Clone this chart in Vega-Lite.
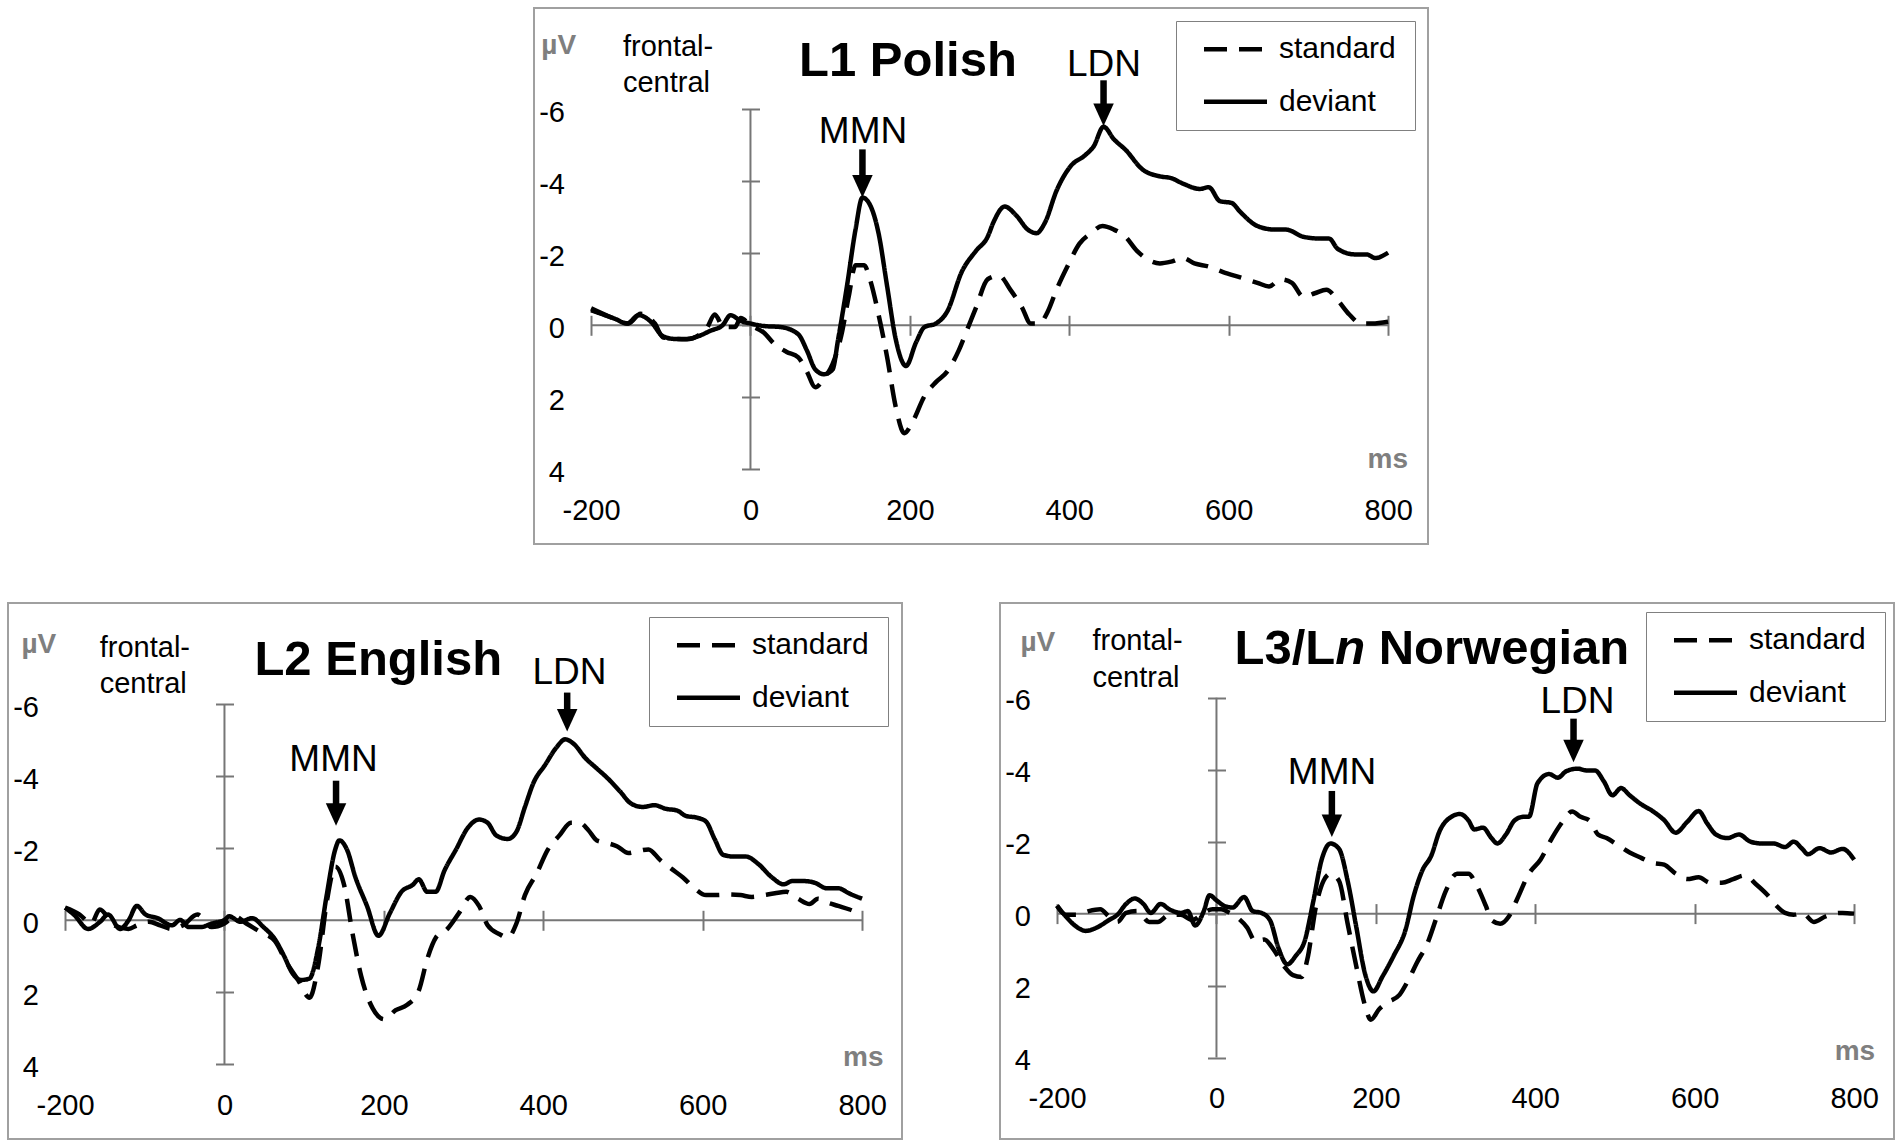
{
"$schema": "https://vega.github.io/schema/vega-lite/v6.json",
"background": "white",
"padding": {"left": 7, "top": 7, "right": 5, "bottom": 5},
"config": {"font": "Liberation Sans", "view": {"stroke": null}},
"datasets": {
"frame": [
{"p":"A","t1":-200,"t2":800,"v1":0,"v2":0},{"p":"A","t1":0,"t2":0,"v1":-6,"v2":4},
{"p":"B","t1":-200,"t2":800,"v1":0,"v2":0},{"p":"B","t1":0,"t2":0,"v1":-6,"v2":4},
{"p":"C","t1":-200,"t2":800,"v1":0,"v2":0},{"p":"C","t1":0,"t2":0,"v1":-6,"v2":4}
],
"curves": [
{"p":"A","c":"deviant","t":-200,"v":-0.42},{"p":"A","c":"deviant","t":-185,"v":-0.3},{"p":"A","c":"deviant","t":-170,"v":-0.18},{"p":"A","c":"deviant","t":-155,"v":-0.05},{"p":"A","c":"deviant","t":-140,"v":-0.28},{"p":"A","c":"deviant","t":-125,"v":-0.1},{"p":"A","c":"deviant","t":-110,"v":0.3},{"p":"A","c":"deviant","t":-95,"v":0.38},{"p":"A","c":"deviant","t":-80,"v":0.38},{"p":"A","c":"deviant","t":-65,"v":0.3},{"p":"A","c":"deviant","t":-50,"v":0.15},{"p":"A","c":"deviant","t":-35,"v":0},{"p":"A","c":"deviant","t":-25,"v":-0.28},{"p":"A","c":"deviant","t":-12,"v":-0.12},{"p":"A","c":"deviant","t":0,"v":-0.05},{"p":"A","c":"deviant","t":16.6,"v":0.02},{"p":"A","c":"deviant","t":38,"v":0.05},{"p":"A","c":"deviant","t":60,"v":0.25},{"p":"A","c":"deviant","t":70.6,"v":0.69},{"p":"A","c":"deviant","t":81.4,"v":1.23},{"p":"A","c":"deviant","t":92.2,"v":1.36},{"p":"A","c":"deviant","t":103,"v":1.23},{"p":"A","c":"deviant","t":110,"v":0.39},{"p":"A","c":"deviant","t":121,"v":-1.08},{"p":"A","c":"deviant","t":131.8,"v":-2.66},{"p":"A","c":"deviant","t":140.5,"v":-3.55},{"p":"A","c":"deviant","t":149.9,"v":-3.35},{"p":"A","c":"deviant","t":160.7,"v":-2.56},{"p":"A","c":"deviant","t":171.5,"v":-1.08},{"p":"A","c":"deviant","t":182.3,"v":0.39},{"p":"A","c":"deviant","t":195.2,"v":1.13},{"p":"A","c":"deviant","t":207.5,"v":0.49},{"p":"A","c":"deviant","t":218.3,"v":0.05},{"p":"A","c":"deviant","t":232.7,"v":-0.05},{"p":"A","c":"deviant","t":247,"v":-0.39},{"p":"A","c":"deviant","t":265,"v":-1.48},{"p":"A","c":"deviant","t":283,"v":-2.07},{"p":"A","c":"deviant","t":297.6,"v":-2.46},{"p":"A","c":"deviant","t":304.8,"v":-2.86},{"p":"A","c":"deviant","t":319,"v":-3.3},{"p":"A","c":"deviant","t":333.6,"v":-3.05},{"p":"A","c":"deviant","t":348,"v":-2.66},{"p":"A","c":"deviant","t":358.8,"v":-2.56},{"p":"A","c":"deviant","t":369.6,"v":-2.86},{"p":"A","c":"deviant","t":384,"v":-3.74},{"p":"A","c":"deviant","t":402,"v":-4.43},{"p":"A","c":"deviant","t":420,"v":-4.73},{"p":"A","c":"deviant","t":430.8,"v":-4.98},{"p":"A","c":"deviant","t":443,"v":-5.52},{"p":"A","c":"deviant","t":456,"v":-5.17},{"p":"A","c":"deviant","t":470.5,"v":-4.88},{"p":"A","c":"deviant","t":492,"v":-4.33},{"p":"A","c":"deviant","t":513.7,"v":-4.14},{"p":"A","c":"deviant","t":528,"v":-4.09},{"p":"A","c":"deviant","t":542.5,"v":-3.94},{"p":"A","c":"deviant","t":564,"v":-3.79},{"p":"A","c":"deviant","t":575,"v":-3.84},{"p":"A","c":"deviant","t":589,"v":-3.45},{"p":"A","c":"deviant","t":603.7,"v":-3.4},{"p":"A","c":"deviant","t":614.6,"v":-3.15},{"p":"A","c":"deviant","t":636,"v":-2.76},{"p":"A","c":"deviant","t":657.8,"v":-2.66},{"p":"A","c":"deviant","t":672,"v":-2.66},{"p":"A","c":"deviant","t":693.8,"v":-2.46},{"p":"A","c":"deviant","t":715.4,"v":-2.41},{"p":"A","c":"deviant","t":726,"v":-2.41},{"p":"A","c":"deviant","t":737,"v":-2.12},{"p":"A","c":"deviant","t":758.6,"v":-1.97},{"p":"A","c":"deviant","t":773,"v":-1.97},{"p":"A","c":"deviant","t":783.9,"v":-1.87},{"p":"A","c":"deviant","t":800,"v":-2.02},
{"p":"A","c":"standard","t":-200,"v":-0.47},{"p":"A","c":"standard","t":-178,"v":-0.25},{"p":"A","c":"standard","t":-153,"v":-0.05},{"p":"A","c":"standard","t":-138,"v":-0.32},{"p":"A","c":"standard","t":-120,"v":-0.05},{"p":"A","c":"standard","t":-109.5,"v":0.34},{"p":"A","c":"standard","t":-80.7,"v":0.39},{"p":"A","c":"standard","t":-55.5,"v":0.1},{"p":"A","c":"standard","t":-44.7,"v":-0.3},{"p":"A","c":"standard","t":-33.9,"v":0.05},{"p":"A","c":"standard","t":-19.5,"v":0.05},{"p":"A","c":"standard","t":-12.2,"v":-0.2},{"p":"A","c":"standard","t":0,"v":0},{"p":"A","c":"standard","t":16.6,"v":0.2},{"p":"A","c":"standard","t":31,"v":0.54},{"p":"A","c":"standard","t":45.4,"v":0.74},{"p":"A","c":"standard","t":60,"v":0.89},{"p":"A","c":"standard","t":70.6,"v":1.28},{"p":"A","c":"standard","t":81.4,"v":1.72},{"p":"A","c":"standard","t":92.2,"v":1.48},{"p":"A","c":"standard","t":103,"v":1.08},{"p":"A","c":"standard","t":113.8,"v":0.3},{"p":"A","c":"standard","t":123.2,"v":-0.79},{"p":"A","c":"standard","t":131.8,"v":-1.67},{"p":"A","c":"standard","t":142.7,"v":-1.67},{"p":"A","c":"standard","t":149.9,"v":-1.28},{"p":"A","c":"standard","t":160.7,"v":-0.3},{"p":"A","c":"standard","t":171.5,"v":0.89},{"p":"A","c":"standard","t":182.3,"v":2.27},{"p":"A","c":"standard","t":193,"v":3.0},{"p":"A","c":"standard","t":204,"v":2.66},{"p":"A","c":"standard","t":218.3,"v":1.97},{"p":"A","c":"standard","t":232.7,"v":1.58},{"p":"A","c":"standard","t":247,"v":1.28},{"p":"A","c":"standard","t":261.5,"v":0.69},{"p":"A","c":"standard","t":272.3,"v":0.1},{"p":"A","c":"standard","t":283,"v":-0.49},{"p":"A","c":"standard","t":297.6,"v":-1.28},{"p":"A","c":"standard","t":312,"v":-1.38},{"p":"A","c":"standard","t":326,"v":-0.99},{"p":"A","c":"standard","t":340.8,"v":-0.49},{"p":"A","c":"standard","t":351.6,"v":-0.05},{"p":"A","c":"standard","t":362.4,"v":-0.05},{"p":"A","c":"standard","t":373.2,"v":-0.39},{"p":"A","c":"standard","t":384,"v":-0.99},{"p":"A","c":"standard","t":398.4,"v":-1.67},{"p":"A","c":"standard","t":412.8,"v":-2.27},{"p":"A","c":"standard","t":427.2,"v":-2.56},{"p":"A","c":"standard","t":441.6,"v":-2.76},{"p":"A","c":"standard","t":456,"v":-2.66},{"p":"A","c":"standard","t":470.5,"v":-2.46},{"p":"A","c":"standard","t":484.9,"v":-2.07},{"p":"A","c":"standard","t":499.3,"v":-1.82},{"p":"A","c":"standard","t":513.7,"v":-1.72},{"p":"A","c":"standard","t":528,"v":-1.77},{"p":"A","c":"standard","t":542.5,"v":-1.87},{"p":"A","c":"standard","t":557,"v":-1.72},{"p":"A","c":"standard","t":575,"v":-1.63},{"p":"A","c":"standard","t":593,"v":-1.48},{"p":"A","c":"standard","t":614.6,"v":-1.33},{"p":"A","c":"standard","t":636,"v":-1.18},{"p":"A","c":"standard","t":650.6,"v":-1.08},{"p":"A","c":"standard","t":665,"v":-1.28},{"p":"A","c":"standard","t":679.4,"v":-1.18},{"p":"A","c":"standard","t":693.8,"v":-0.79},{"p":"A","c":"standard","t":708,"v":-0.89},{"p":"A","c":"standard","t":722.6,"v":-0.99},{"p":"A","c":"standard","t":737,"v":-0.69},{"p":"A","c":"standard","t":751.4,"v":-0.3},{"p":"A","c":"standard","t":765.7,"v":-0.05},{"p":"A","c":"standard","t":780,"v":-0.05},{"p":"A","c":"standard","t":800,"v":-0.1},
{"p":"B","c":"deviant","t":-200,"v":-0.35},{"p":"B","c":"deviant","t":-189,"v":-0.16},{"p":"B","c":"deviant","t":-171,"v":0.24},{"p":"B","c":"deviant","t":-156,"v":0.04},{"p":"B","c":"deviant","t":-146,"v":-0.16},{"p":"B","c":"deviant","t":-131,"v":0.24},{"p":"B","c":"deviant","t":-120,"v":-0.01},{"p":"B","c":"deviant","t":-110,"v":-0.4},{"p":"B","c":"deviant","t":-99,"v":-0.16},{"p":"B","c":"deviant","t":-84,"v":-0.06},{"p":"B","c":"deviant","t":-66,"v":0.14},{"p":"B","c":"deviant","t":-55.5,"v":-0.01},{"p":"B","c":"deviant","t":-44.7,"v":0.19},{"p":"B","c":"deviant","t":-30,"v":0.19},{"p":"B","c":"deviant","t":-16,"v":0.09},{"p":"B","c":"deviant","t":0,"v":-0.01},{"p":"B","c":"deviant","t":5.8,"v":-0.11},{"p":"B","c":"deviant","t":20,"v":0.04},{"p":"B","c":"deviant","t":34.6,"v":-0.06},{"p":"B","c":"deviant","t":49,"v":0.19},{"p":"B","c":"deviant","t":63.4,"v":0.53},{"p":"B","c":"deviant","t":74.3,"v":0.97},{"p":"B","c":"deviant","t":85,"v":1.46},{"p":"B","c":"deviant","t":95.9,"v":1.66},{"p":"B","c":"deviant","t":106.7,"v":1.62},{"p":"B","c":"deviant","t":117.5,"v":0.78},{"p":"B","c":"deviant","t":128.3,"v":-0.7},{"p":"B","c":"deviant","t":139,"v":-1.97},{"p":"B","c":"deviant","t":144.2,"v":-2.22},{"p":"B","c":"deviant","t":153.6,"v":-1.97},{"p":"B","c":"deviant","t":164.4,"v":-1.19},{"p":"B","c":"deviant","t":178.8,"v":-0.4},{"p":"B","c":"deviant","t":193.2,"v":0.43},{"p":"B","c":"deviant","t":207.6,"v":-0.2},{"p":"B","c":"deviant","t":222,"v":-0.79},{"p":"B","c":"deviant","t":236.5,"v":-0.99},{"p":"B","c":"deviant","t":243.7,"v":-1.14},{"p":"B","c":"deviant","t":254.5,"v":-0.79},{"p":"B","c":"deviant","t":265,"v":-0.79},{"p":"B","c":"deviant","t":276,"v":-1.38},{"p":"B","c":"deviant","t":290.6,"v":-1.97},{"p":"B","c":"deviant","t":305,"v":-2.56},{"p":"B","c":"deviant","t":319.4,"v":-2.8},{"p":"B","c":"deviant","t":330.2,"v":-2.71},{"p":"B","c":"deviant","t":341,"v":-2.36},{"p":"B","c":"deviant","t":355.4,"v":-2.26},{"p":"B","c":"deviant","t":366.3,"v":-2.46},{"p":"B","c":"deviant","t":377,"v":-3.15},{"p":"B","c":"deviant","t":387.9,"v":-3.83},{"p":"B","c":"deviant","t":402.3,"v":-4.32},{"p":"B","c":"deviant","t":416.7,"v":-4.81},{"p":"B","c":"deviant","t":427.5,"v":-5.03},{"p":"B","c":"deviant","t":438.4,"v":-4.9},{"p":"B","c":"deviant","t":452.8,"v":-4.51},{"p":"B","c":"deviant","t":467.2,"v":-4.22},{"p":"B","c":"deviant","t":481.6,"v":-3.93},{"p":"B","c":"deviant","t":496,"v":-3.59},{"p":"B","c":"deviant","t":510.5,"v":-3.24},{"p":"B","c":"deviant","t":525,"v":-3.15},{"p":"B","c":"deviant","t":539.3,"v":-3.2},{"p":"B","c":"deviant","t":553.7,"v":-3.1},{"p":"B","c":"deviant","t":568,"v":-3.05},{"p":"B","c":"deviant","t":579,"v":-2.9},{"p":"B","c":"deviant","t":593.4,"v":-2.85},{"p":"B","c":"deviant","t":604,"v":-2.75},{"p":"B","c":"deviant","t":615,"v":-2.26},{"p":"B","c":"deviant","t":625.8,"v":-1.82},{"p":"B","c":"deviant","t":640,"v":-1.77},{"p":"B","c":"deviant","t":654.6,"v":-1.77},{"p":"B","c":"deviant","t":669,"v":-1.58},{"p":"B","c":"deviant","t":687,"v":-1.19},{"p":"B","c":"deviant","t":701.5,"v":-1.0},{"p":"B","c":"deviant","t":712.3,"v":-1.09},{"p":"B","c":"deviant","t":726.7,"v":-1.09},{"p":"B","c":"deviant","t":741,"v":-1.04},{"p":"B","c":"deviant","t":755.6,"v":-0.89},{"p":"B","c":"deviant","t":770,"v":-0.89},{"p":"B","c":"deviant","t":784.4,"v":-0.74},{"p":"B","c":"deviant","t":800,"v":-0.6},
{"p":"B","c":"standard","t":-200,"v":-0.35},{"p":"B","c":"standard","t":-181.7,"v":-0.16},{"p":"B","c":"standard","t":-167.3,"v":0.09},{"p":"B","c":"standard","t":-156.5,"v":-0.3},{"p":"B","c":"standard","t":-138.4,"v":0.14},{"p":"B","c":"standard","t":-120.4,"v":0.24},{"p":"B","c":"standard","t":-109.6,"v":0.14},{"p":"B","c":"standard","t":-95,"v":0.04},{"p":"B","c":"standard","t":-80.7,"v":0.14},{"p":"B","c":"standard","t":-66.3,"v":0.24},{"p":"B","c":"standard","t":-52,"v":0.14},{"p":"B","c":"standard","t":-34,"v":-0.16},{"p":"B","c":"standard","t":-16,"v":0.19},{"p":"B","c":"standard","t":0,"v":0.09},{"p":"B","c":"standard","t":13,"v":-0.11},{"p":"B","c":"standard","t":27.4,"v":0.09},{"p":"B","c":"standard","t":45.4,"v":0.33},{"p":"B","c":"standard","t":63.4,"v":0.58},{"p":"B","c":"standard","t":77.9,"v":1.17},{"p":"B","c":"standard","t":92.3,"v":1.66},{"p":"B","c":"standard","t":106.7,"v":2.15},{"p":"B","c":"standard","t":117.5,"v":1.27},{"p":"B","c":"standard","t":128.3,"v":-0.5},{"p":"B","c":"standard","t":139.2,"v":-1.49},{"p":"B","c":"standard","t":150,"v":-0.99},{"p":"B","c":"standard","t":160.8,"v":0.38},{"p":"B","c":"standard","t":171.6,"v":1.56},{"p":"B","c":"standard","t":186,"v":2.45},{"p":"B","c":"standard","t":200.4,"v":2.75},{"p":"B","c":"standard","t":214.8,"v":2.5},{"p":"B","c":"standard","t":229.3,"v":2.35},{"p":"B","c":"standard","t":243.7,"v":1.96},{"p":"B","c":"standard","t":254.5,"v":1.07},{"p":"B","c":"standard","t":265.3,"v":0.48},{"p":"B","c":"standard","t":279.7,"v":0.24},{"p":"B","c":"standard","t":294.2,"v":-0.2},{"p":"B","c":"standard","t":308.6,"v":-0.65},{"p":"B","c":"standard","t":319.4,"v":-0.4},{"p":"B","c":"standard","t":330.2,"v":0.14},{"p":"B","c":"standard","t":344.6,"v":0.38},{"p":"B","c":"standard","t":355.4,"v":0.48},{"p":"B","c":"standard","t":366.3,"v":0.09},{"p":"B","c":"standard","t":377,"v":-0.7},{"p":"B","c":"standard","t":391.5,"v":-1.29},{"p":"B","c":"standard","t":405.9,"v":-1.97},{"p":"B","c":"standard","t":420.3,"v":-2.36},{"p":"B","c":"standard","t":434.7,"v":-2.71},{"p":"B","c":"standard","t":445.6,"v":-2.71},{"p":"B","c":"standard","t":456.4,"v":-2.51},{"p":"B","c":"standard","t":467.2,"v":-2.22},{"p":"B","c":"standard","t":478,"v":-2.16},{"p":"B","c":"standard","t":492.4,"v":-2.06},{"p":"B","c":"standard","t":506.8,"v":-1.87},{"p":"B","c":"standard","t":517.7,"v":-1.92},{"p":"B","c":"standard","t":532,"v":-1.97},{"p":"B","c":"standard","t":546.5,"v":-1.68},{"p":"B","c":"standard","t":561,"v":-1.43},{"p":"B","c":"standard","t":575.3,"v":-1.19},{"p":"B","c":"standard","t":589.8,"v":-0.89},{"p":"B","c":"standard","t":604.2,"v":-0.7},{"p":"B","c":"standard","t":618.6,"v":-0.7},{"p":"B","c":"standard","t":633,"v":-0.72},{"p":"B","c":"standard","t":647.4,"v":-0.7},{"p":"B","c":"standard","t":661.8,"v":-0.65},{"p":"B","c":"standard","t":676.3,"v":-0.7},{"p":"B","c":"standard","t":690.7,"v":-0.75},{"p":"B","c":"standard","t":705,"v":-0.79},{"p":"B","c":"standard","t":719.5,"v":-0.6},{"p":"B","c":"standard","t":734,"v":-0.45},{"p":"B","c":"standard","t":744.8,"v":-0.6},{"p":"B","c":"standard","t":755.6,"v":-0.5},{"p":"B","c":"standard","t":770,"v":-0.4},{"p":"B","c":"standard","t":784.4,"v":-0.3},{"p":"B","c":"standard","t":800,"v":-0.15},
{"p":"C","c":"deviant","t":-200,"v":-0.22},{"p":"C","c":"deviant","t":-189,"v":0.08},{"p":"C","c":"deviant","t":-174.7,"v":0.38},{"p":"C","c":"deviant","t":-164,"v":0.48},{"p":"C","c":"deviant","t":-149.5,"v":0.38},{"p":"C","c":"deviant","t":-135,"v":0.18},{"p":"C","c":"deviant","t":-124.2,"v":0.03},{"p":"C","c":"deviant","t":-113.4,"v":-0.27},{"p":"C","c":"deviant","t":-102.5,"v":-0.42},{"p":"C","c":"deviant","t":-91.7,"v":-0.27},{"p":"C","c":"deviant","t":-82.3,"v":-0.02},{"p":"C","c":"deviant","t":-70,"v":-0.27},{"p":"C","c":"deviant","t":-59.2,"v":-0.12},{"p":"C","c":"deviant","t":-44.8,"v":-0.02},{"p":"C","c":"deviant","t":-36,"v":-0.07},{"p":"C","c":"deviant","t":-26.7,"v":0.33},{"p":"C","c":"deviant","t":-15.9,"v":-0.07},{"p":"C","c":"deviant","t":-8.7,"v":-0.51},{"p":"C","c":"deviant","t":0,"v":-0.37},{"p":"C","c":"deviant","t":9.4,"v":-0.22},{"p":"C","c":"deviant","t":20.2,"v":-0.17},{"p":"C","c":"deviant","t":34.7,"v":-0.46},{"p":"C","c":"deviant","t":45.5,"v":-0.07},{"p":"C","c":"deviant","t":56.3,"v":-0.02},{"p":"C","c":"deviant","t":67.1,"v":0.18},{"p":"C","c":"deviant","t":78,"v":0.97},{"p":"C","c":"deviant","t":88.8,"v":1.41},{"p":"C","c":"deviant","t":99.6,"v":1.17},{"p":"C","c":"deviant","t":110.5,"v":0.77},{"p":"C","c":"deviant","t":121.3,"v":-0.32},{"p":"C","c":"deviant","t":132,"v":-1.5},{"p":"C","c":"deviant","t":143,"v":-1.95},{"p":"C","c":"deviant","t":153.8,"v":-1.8},{"p":"C","c":"deviant","t":164.6,"v":-0.91},{"p":"C","c":"deviant","t":175.5,"v":0.38},{"p":"C","c":"deviant","t":186.3,"v":1.66},{"p":"C","c":"deviant","t":197,"v":2.16},{"p":"C","c":"deviant","t":208,"v":1.76},{"p":"C","c":"deviant","t":222.4,"v":1.17},{"p":"C","c":"deviant","t":236.8,"v":0.48},{"p":"C","c":"deviant","t":247.7,"v":-0.51},{"p":"C","c":"deviant","t":258.5,"v":-1.21},{"p":"C","c":"deviant","t":269.3,"v":-1.6},{"p":"C","c":"deviant","t":280.1,"v":-2.3},{"p":"C","c":"deviant","t":294.6,"v":-2.69},{"p":"C","c":"deviant","t":305.4,"v":-2.77},{"p":"C","c":"deviant","t":316.2,"v":-2.59},{"p":"C","c":"deviant","t":323.5,"v":-2.34},{"p":"C","c":"deviant","t":334.3,"v":-2.39},{"p":"C","c":"deviant","t":345.1,"v":-2.1},{"p":"C","c":"deviant","t":352.3,"v":-1.95},{"p":"C","c":"deviant","t":363.2,"v":-2.2},{"p":"C","c":"deviant","t":374,"v":-2.59},{"p":"C","c":"deviant","t":384.8,"v":-2.69},{"p":"C","c":"deviant","t":392,"v":-2.69},{"p":"C","c":"deviant","t":402.9,"v":-3.63},{"p":"C","c":"deviant","t":417.3,"v":-3.88},{"p":"C","c":"deviant","t":428.2,"v":-3.78},{"p":"C","c":"deviant","t":439,"v":-3.96},{"p":"C","c":"deviant","t":453.4,"v":-4.03},{"p":"C","c":"deviant","t":464.3,"v":-3.98},{"p":"C","c":"deviant","t":475,"v":-3.98},{"p":"C","c":"deviant","t":486,"v":-3.68},{"p":"C","c":"deviant","t":496.8,"v":-3.29},{"p":"C","c":"deviant","t":507.6,"v":-3.49},{"p":"C","c":"deviant","t":518.4,"v":-3.29},{"p":"C","c":"deviant","t":532.9,"v":-3.04},{"p":"C","c":"deviant","t":547.3,"v":-2.85},{"p":"C","c":"deviant","t":561.7,"v":-2.6},{"p":"C","c":"deviant","t":576.2,"v":-2.25},{"p":"C","c":"deviant","t":590.6,"v":-2.55},{"p":"C","c":"deviant","t":605,"v":-2.85},{"p":"C","c":"deviant","t":615.9,"v":-2.5},{"p":"C","c":"deviant","t":626.7,"v":-2.2},{"p":"C","c":"deviant","t":641,"v":-2.1},{"p":"C","c":"deviant","t":655.6,"v":-2.2},{"p":"C","c":"deviant","t":670,"v":-2.0},{"p":"C","c":"deviant","t":684.5,"v":-1.95},{"p":"C","c":"deviant","t":699,"v":-1.95},{"p":"C","c":"deviant","t":713.4,"v":-1.85},{"p":"C","c":"deviant","t":724.2,"v":-2.0},{"p":"C","c":"deviant","t":735,"v":-1.8},{"p":"C","c":"deviant","t":742.2,"v":-1.65},{"p":"C","c":"deviant","t":756.7,"v":-1.82},{"p":"C","c":"deviant","t":771,"v":-1.7},{"p":"C","c":"deviant","t":785.6,"v":-1.8},{"p":"C","c":"deviant","t":800,"v":-1.5},
{"p":"C","c":"standard","t":-200,"v":-0.22},{"p":"C","c":"standard","t":-189,"v":0.03},{"p":"C","c":"standard","t":-174.7,"v":0.03},{"p":"C","c":"standard","t":-160.3,"v":-0.07},{"p":"C","c":"standard","t":-145.8,"v":-0.12},{"p":"C","c":"standard","t":-135,"v":0.08},{"p":"C","c":"standard","t":-124.2,"v":0.23},{"p":"C","c":"standard","t":-113.4,"v":-0.02},{"p":"C","c":"standard","t":-99,"v":-0.07},{"p":"C","c":"standard","t":-84.5,"v":0.23},{"p":"C","c":"standard","t":-73.6,"v":0.23},{"p":"C","c":"standard","t":-59.2,"v":0.03},{"p":"C","c":"standard","t":-44.8,"v":0.03},{"p":"C","c":"standard","t":-30.3,"v":0.18},{"p":"C","c":"standard","t":-15.9,"v":-0.02},{"p":"C","c":"standard","t":-5,"v":-0.12},{"p":"C","c":"standard","t":5.8,"v":-0.12},{"p":"C","c":"standard","t":16.6,"v":-0.02},{"p":"C","c":"standard","t":27.4,"v":0.13},{"p":"C","c":"standard","t":38.3,"v":0.38},{"p":"C","c":"standard","t":49,"v":0.77},{"p":"C","c":"standard","t":60,"v":0.72},{"p":"C","c":"standard","t":70.8,"v":0.97},{"p":"C","c":"standard","t":85.2,"v":1.47},{"p":"C","c":"standard","t":96,"v":1.71},{"p":"C","c":"standard","t":106.9,"v":1.76},{"p":"C","c":"standard","t":114,"v":1.27},{"p":"C","c":"standard","t":125,"v":-0.22},{"p":"C","c":"standard","t":134.3,"v":-0.91},{"p":"C","c":"standard","t":143,"v":-1.11},{"p":"C","c":"standard","t":153.8,"v":-0.91},{"p":"C","c":"standard","t":164.6,"v":0.28},{"p":"C","c":"standard","t":175.5,"v":1.47},{"p":"C","c":"standard","t":186.3,"v":2.55},{"p":"C","c":"standard","t":193.5,"v":2.95},{"p":"C","c":"standard","t":204.3,"v":2.65},{"p":"C","c":"standard","t":215.2,"v":2.46},{"p":"C","c":"standard","t":229.6,"v":2.26},{"p":"C","c":"standard","t":240.4,"v":1.86},{"p":"C","c":"standard","t":251.3,"v":1.37},{"p":"C","c":"standard","t":265.7,"v":0.77},{"p":"C","c":"standard","t":276.5,"v":0.08},{"p":"C","c":"standard","t":287.4,"v":-0.61},{"p":"C","c":"standard","t":301.8,"v":-1.11},{"p":"C","c":"standard","t":316.2,"v":-1.11},{"p":"C","c":"standard","t":327,"v":-0.76},{"p":"C","c":"standard","t":337.9,"v":-0.22},{"p":"C","c":"standard","t":345.1,"v":0.18},{"p":"C","c":"standard","t":356,"v":0.28},{"p":"C","c":"standard","t":366.8,"v":0.08},{"p":"C","c":"standard","t":377.6,"v":-0.42},{"p":"C","c":"standard","t":392,"v":-1.11},{"p":"C","c":"standard","t":406.5,"v":-1.5},{"p":"C","c":"standard","t":421,"v":-2.1},{"p":"C","c":"standard","t":435.4,"v":-2.59},{"p":"C","c":"standard","t":446.2,"v":-2.84},{"p":"C","c":"standard","t":457,"v":-2.69},{"p":"C","c":"standard","t":467.9,"v":-2.59},{"p":"C","c":"standard","t":478.7,"v":-2.2},{"p":"C","c":"standard","t":489.5,"v":-2.1},{"p":"C","c":"standard","t":504,"v":-1.9},{"p":"C","c":"standard","t":518.4,"v":-1.7},{"p":"C","c":"standard","t":532.9,"v":-1.55},{"p":"C","c":"standard","t":547.3,"v":-1.41},{"p":"C","c":"standard","t":561.7,"v":-1.36},{"p":"C","c":"standard","t":576.2,"v":-1.11},{"p":"C","c":"standard","t":590.6,"v":-0.96},{"p":"C","c":"standard","t":605,"v":-1.01},{"p":"C","c":"standard","t":619.5,"v":-0.86},{"p":"C","c":"standard","t":634,"v":-0.86},{"p":"C","c":"standard","t":648.4,"v":-0.96},{"p":"C","c":"standard","t":662.8,"v":-1.06},{"p":"C","c":"standard","t":677.3,"v":-0.81},{"p":"C","c":"standard","t":691.7,"v":-0.51},{"p":"C","c":"standard","t":702.5,"v":-0.22},{"p":"C","c":"standard","t":713.4,"v":-0.02},{"p":"C","c":"standard","t":724.2,"v":0.03},{"p":"C","c":"standard","t":735,"v":-0.02},{"p":"C","c":"standard","t":749.5,"v":0.23},{"p":"C","c":"standard","t":764,"v":0.08},{"p":"C","c":"standard","t":774.7,"v":0.0},{"p":"C","c":"standard","t":785.6,"v":-0.02},{"p":"C","c":"standard","t":800,"v":0.0}
],
"labels": [
{"p":"A","k":"title","t":197.6,"v":-6.93,"s":"L1 Polish"},
{"p":"A","k":"peak","t":141.2,"v":-5.08,"s":"MMN"},
{"p":"A","k":"peak","t":443.6,"v":-6.94,"s":"LDN"},
{"p":"A","k":"region","t":-160,"v":-7.49,"s":"frontal-\ncentral"},
{"p":"A","k":"unitL","t":-262.5,"v":-7.53,"s":"µV"},
{"p":"A","k":"unitR","t":825,"v":3.98,"s":"ms"},
{"p":"B","k":"title","t":193,"v":-6.81,"s":"L2 English"},
{"p":"B","k":"peak","t":136.8,"v":-4.16,"s":"MMN"},
{"p":"B","k":"peak","t":432.8,"v":-6.58,"s":"LDN"},
{"p":"B","k":"region","t":-156.5,"v":-7.32,"s":"frontal-\ncentral"},
{"p":"B","k":"unitL","t":-254.7,"v":-7.43,"s":"µV"},
{"p":"B","k":"unitR","t":826.9,"v":4.06,"s":"ms"},
{"p":"C","k":"titleR","t":149.1,"v":-6.95,"s":"L3/L"},
{"p":"C","k":"titleI","t":149.1,"v":-6.95,"s":"n"},
{"p":"C","k":"titleL","t":203.6,"v":-6.95,"s":"Norwegian"},
{"p":"C","k":"peak","t":145,"v":-3.61,"s":"MMN"},
{"p":"C","k":"peak","t":453,"v":-5.57,"s":"LDN"},
{"p":"C","k":"region","t":-155.6,"v":-7.32,"s":"frontal-\ncentral"},
{"p":"C","k":"unitL","t":-245.9,"v":-7.29,"s":"µV"},
{"p":"C","k":"unitR","t":826.5,"v":4.06,"s":"ms"}
],
"arrows": [
{"p":"A","t":140.5,"v1":-4.89,"v2":-3.95,"tip":-3.55},
{"p":"A","t":443,"v1":-6.81,"v2":-5.94,"tip":-5.54},
{"p":"B","t":140,"v1":-3.88,"v2":-3.03,"tip":-2.63},
{"p":"B","t":430,"v1":-6.33,"v2":-5.65,"tip":-5.25},
{"p":"C","t":144.8,"v1":-3.41,"v2":-2.53,"tip":-2.13},
{"p":"C","t":448,"v1":-5.42,"v2":-4.61,"tip":-4.21}
]
},
"spacing": 57,
"resolve": {"scale": {"strokeDash": "independent", "x": "independent", "y": "independent"}, "legend": {"strokeDash": "independent"}},
"vconcat": [
{"hconcat": [
{"width": 525, "height": 536, "view": {"stroke": null}, "data": {"values": []}, "mark": {"type": "point", "opacity": 0}},
{"width": 894, "height": 536, "view": {"stroke": "#a0a0a0", "strokeWidth": 2},
 "layer": [
  {"data": {"name": "frame"}, "transform": [{"filter": "datum.p === 'A'"}], "mark": {"type": "rule", "color": "#767676", "strokeWidth": 2}, "encoding": {"x": {"field": "t1", "type": "quantitative"}, "x2": {"field": "t2"}, "y": {"field": "v1", "type": "quantitative"}, "y2": {"field": "v2"}}},
  {"data": {"name": "curves"}, "transform": [{"filter": "datum.p === 'A'"}],
   "mark": {"type": "line", "color": "black", "strokeWidth": 4.5, "interpolate": "monotone", "strokeJoin": "round"},
   "encoding": {
    "x": {"field": "t", "type": "quantitative", "scale": {"domain": [-271.6, 850.1], "nice": false, "zero": false},
      "axis": {"orient": "bottom", "offset": -228.7, "values": [-200,0,200,400,600,800], "domain": false, "grid": false, "tickSize": 20, "tickColor": "#767676", "tickWidth": 2, "labelPadding": 160.7, "labelFont": "Liberation Sans", "labelFontSize": 29, "labelColor": "black", "labelExpr": "toString(datum.value)", "labelFlush": false, "labelOverlap": false, "title": null}},
    "y": {"field": "v", "type": "quantitative", "scale": {"domain": [-8.82, 6.08], "nice": false, "zero": false, "reverse": true},
      "axis": {"orient": "left", "offset": -225.5, "values": [-6,-4,-2,0,2,4], "domain": false, "grid": false, "tickSize": 18, "tickColor": "#767676", "tickWidth": 2, "labelPadding": 177, "labelOffset": 3, "labelFont": "Liberation Sans", "labelFontSize": 29, "labelColor": "black", "labelExpr": "toString(datum.value)", "labelFlush": false, "labelOverlap": false, "title": null}},
    "strokeDash": {"field": "c", "type": "nominal", "scale": {"domain": ["standard", "deviant"], "range": [[23, 12], [1, 0]]},
      "legend": {"title": null, "orient": "top-right", "offset": 13, "symbolType": "M18.8,0M-0.03,0H6.27", "symbolSize": 400, "symbolStrokeWidth": 4.5, "symbolStrokeColor": "black", "labelFont": "Liberation Sans", "labelFontSize": 30, "labelColor": "black", "labelOffset": 59.7, "rowPadding": 22.4, "padding": 13.3, "strokeColor": "#808080", "fillColor": "white"}}
   }},
  {"data": {"name": "arrows"}, "transform": [{"filter": "datum.p === 'A'"}], "mark": {"type": "rule", "color": "black", "strokeWidth": 6.5}, "encoding": {"x": {"field": "t", "type": "quantitative"}, "y": {"field": "v1", "type": "quantitative"}, "y2": {"field": "v2"}}},
  {"data": {"name": "arrows"}, "transform": [{"filter": "datum.p === 'A'"}], "mark": {"type": "point", "shape": "M-1,-2.2L1,-2.2L0,0Z", "size": 420, "filled": true, "color": "black", "opacity": 1}, "encoding": {"x": {"field": "t", "type": "quantitative"}, "y": {"field": "tip", "type": "quantitative"}}},
  {"data": {"name": "labels"}, "transform": [{"filter": "datum.p === 'A' && datum.k === 'title'"}], "mark": {"type": "text", "font": "Liberation Sans", "fontWeight": "bold", "fontSize": 49, "align": "center", "baseline": "alphabetic", "color": "black"}, "encoding": {"x": {"field": "t", "type": "quantitative"}, "y": {"field": "v", "type": "quantitative"}, "text": {"field": "s"}}},
  {"data": {"name": "labels"}, "transform": [{"filter": "datum.p === 'A' && datum.k === 'peak'"}], "mark": {"type": "text", "font": "Liberation Sans", "fontSize": 37, "align": "center", "baseline": "alphabetic", "color": "black"}, "encoding": {"x": {"field": "t", "type": "quantitative"}, "y": {"field": "v", "type": "quantitative"}, "text": {"field": "s"}}},
  {"data": {"name": "labels"}, "transform": [{"filter": "datum.p === 'A' && datum.k === 'region'"}], "mark": {"type": "text", "font": "Liberation Sans", "fontSize": 29, "align": "left", "baseline": "alphabetic", "lineBreak": "\n", "lineHeight": 36.5, "color": "black"}, "encoding": {"x": {"field": "t", "type": "quantitative"}, "y": {"field": "v", "type": "quantitative"}, "text": {"field": "s"}}},
  {"data": {"name": "labels"}, "transform": [{"filter": "datum.p === 'A' && datum.k === 'unitL'"}], "mark": {"type": "text", "font": "Liberation Sans", "fontWeight": "bold", "fontSize": 28, "align": "left", "baseline": "alphabetic", "color": "#7f7f7f"}, "encoding": {"x": {"field": "t", "type": "quantitative"}, "y": {"field": "v", "type": "quantitative"}, "text": {"field": "s"}}},
  {"data": {"name": "labels"}, "transform": [{"filter": "datum.p === 'A' && datum.k === 'unitR'"}], "mark": {"type": "text", "font": "Liberation Sans", "fontWeight": "bold", "fontSize": 28, "align": "right", "baseline": "alphabetic", "color": "#7f7f7f"}, "encoding": {"x": {"field": "t", "type": "quantitative"}, "y": {"field": "v", "type": "quantitative"}, "text": {"field": "s"}}}
 ]}
], "spacing": 0, "resolve": {"scale": {"strokeDash": "independent"}, "legend": {"strokeDash": "independent"}}},
{"hconcat": [
{"width": 894, "height": 536, "view": {"stroke": "#a0a0a0", "strokeWidth": 2},
 "layer": [
  {"data": {"name": "frame"}, "transform": [{"filter": "datum.p === 'B'"}], "mark": {"type": "rule", "color": "#767676", "strokeWidth": 2}, "encoding": {"x": {"field": "t1", "type": "quantitative"}, "x2": {"field": "t2"}, "y": {"field": "v1", "type": "quantitative"}, "y2": {"field": "v2"}}},
  {"data": {"name": "curves"}, "transform": [{"filter": "datum.p === 'B'"}],
   "mark": {"type": "line", "color": "black", "strokeWidth": 4.5, "interpolate": "monotone", "strokeJoin": "round"},
   "encoding": {
    "x": {"field": "t", "type": "quantitative", "scale": {"domain": [-271.6, 850.1], "nice": false, "zero": false},
      "axis": {"orient": "bottom", "offset": -228.7, "values": [-200,0,200,400,600,800], "domain": false, "grid": false, "tickSize": 20, "tickColor": "#767676", "tickWidth": 2, "labelPadding": 160.7, "labelFont": "Liberation Sans", "labelFontSize": 29, "labelColor": "black", "labelExpr": "toString(datum.value)", "labelFlush": false, "labelOverlap": false, "title": null}},
    "y": {"field": "v", "type": "quantitative", "scale": {"domain": [-8.82, 6.08], "nice": false, "zero": false, "reverse": true},
      "axis": {"orient": "left", "offset": -225.5, "values": [-6,-4,-2,0,2,4], "domain": false, "grid": false, "tickSize": 18, "tickColor": "#767676", "tickWidth": 2, "labelPadding": 177, "labelOffset": 3, "labelFont": "Liberation Sans", "labelFontSize": 29, "labelColor": "black", "labelExpr": "toString(datum.value)", "labelFlush": false, "labelOverlap": false, "title": null}},
    "strokeDash": {"field": "c", "type": "nominal", "scale": {"domain": ["standard", "deviant"], "range": [[23, 12], [1, 0]]},
      "legend": {"title": null, "orient": "top-right", "offset": 14, "symbolType": "M18.8,0M-0.03,0H6.27", "symbolSize": 400, "symbolStrokeWidth": 4.5, "symbolStrokeColor": "black", "labelFont": "Liberation Sans", "labelFontSize": 30, "labelColor": "black", "labelOffset": 59.7, "rowPadding": 22.4, "padding": 13.3, "strokeColor": "#808080", "fillColor": "white"}}
   }},
  {"data": {"name": "arrows"}, "transform": [{"filter": "datum.p === 'B'"}], "mark": {"type": "rule", "color": "black", "strokeWidth": 6.5}, "encoding": {"x": {"field": "t", "type": "quantitative"}, "y": {"field": "v1", "type": "quantitative"}, "y2": {"field": "v2"}}},
  {"data": {"name": "arrows"}, "transform": [{"filter": "datum.p === 'B'"}], "mark": {"type": "point", "shape": "M-1,-2.2L1,-2.2L0,0Z", "size": 420, "filled": true, "color": "black", "opacity": 1}, "encoding": {"x": {"field": "t", "type": "quantitative"}, "y": {"field": "tip", "type": "quantitative"}}},
  {"data": {"name": "labels"}, "transform": [{"filter": "datum.p === 'B' && datum.k === 'title'"}], "mark": {"type": "text", "font": "Liberation Sans", "fontWeight": "bold", "fontSize": 49, "align": "center", "baseline": "alphabetic", "color": "black"}, "encoding": {"x": {"field": "t", "type": "quantitative"}, "y": {"field": "v", "type": "quantitative"}, "text": {"field": "s"}}},
  {"data": {"name": "labels"}, "transform": [{"filter": "datum.p === 'B' && datum.k === 'peak'"}], "mark": {"type": "text", "font": "Liberation Sans", "fontSize": 37, "align": "center", "baseline": "alphabetic", "color": "black"}, "encoding": {"x": {"field": "t", "type": "quantitative"}, "y": {"field": "v", "type": "quantitative"}, "text": {"field": "s"}}},
  {"data": {"name": "labels"}, "transform": [{"filter": "datum.p === 'B' && datum.k === 'region'"}], "mark": {"type": "text", "font": "Liberation Sans", "fontSize": 29, "align": "left", "baseline": "alphabetic", "lineBreak": "\n", "lineHeight": 36.5, "color": "black"}, "encoding": {"x": {"field": "t", "type": "quantitative"}, "y": {"field": "v", "type": "quantitative"}, "text": {"field": "s"}}},
  {"data": {"name": "labels"}, "transform": [{"filter": "datum.p === 'B' && datum.k === 'unitL'"}], "mark": {"type": "text", "font": "Liberation Sans", "fontWeight": "bold", "fontSize": 28, "align": "left", "baseline": "alphabetic", "color": "#7f7f7f"}, "encoding": {"x": {"field": "t", "type": "quantitative"}, "y": {"field": "v", "type": "quantitative"}, "text": {"field": "s"}}},
  {"data": {"name": "labels"}, "transform": [{"filter": "datum.p === 'B' && datum.k === 'unitR'"}], "mark": {"type": "text", "font": "Liberation Sans", "fontWeight": "bold", "fontSize": 28, "align": "right", "baseline": "alphabetic", "color": "#7f7f7f"}, "encoding": {"x": {"field": "t", "type": "quantitative"}, "y": {"field": "v", "type": "quantitative"}, "text": {"field": "s"}}}
 ]},
{"width": 894, "height": 536, "view": {"stroke": "#a0a0a0", "strokeWidth": 2},
 "layer": [
  {"data": {"name": "frame"}, "transform": [{"filter": "datum.p === 'C'"}], "mark": {"type": "rule", "color": "#767676", "strokeWidth": 2}, "encoding": {"x": {"field": "t1", "type": "quantitative"}, "x2": {"field": "t2"}, "y": {"field": "v1", "type": "quantitative"}, "y2": {"field": "v2"}}},
  {"data": {"name": "curves"}, "transform": [{"filter": "datum.p === 'C'"}],
   "mark": {"type": "line", "color": "black", "strokeWidth": 4.5, "interpolate": "monotone", "strokeJoin": "round"},
   "encoding": {
    "x": {"field": "t", "type": "quantitative", "scale": {"domain": [-271.6, 850.1], "nice": false, "zero": false},
      "axis": {"orient": "bottom", "offset": -235.4, "values": [-200,0,200,400,600,800], "domain": false, "grid": false, "tickSize": 20, "tickColor": "#767676", "tickWidth": 2, "labelPadding": 160.7, "labelFont": "Liberation Sans", "labelFontSize": 29, "labelColor": "black", "labelExpr": "toString(datum.value)", "labelFlush": false, "labelOverlap": false, "title": null}},
    "y": {"field": "v", "type": "quantitative", "scale": {"domain": [-8.635, 6.265], "nice": false, "zero": false, "reverse": true},
      "axis": {"orient": "left", "offset": -225.5, "values": [-6,-4,-2,0,2,4], "domain": false, "grid": false, "tickSize": 18, "tickColor": "#767676", "tickWidth": 2, "labelPadding": 177, "labelOffset": 3, "labelFont": "Liberation Sans", "labelFontSize": 29, "labelColor": "black", "labelExpr": "toString(datum.value)", "labelFlush": false, "labelOverlap": false, "title": null}},
    "strokeDash": {"field": "c", "type": "nominal", "scale": {"domain": ["standard", "deviant"], "range": [[23, 12], [1, 0]]},
      "legend": {"title": null, "orient": "top-right", "offset": 9, "symbolType": "M18.8,0M-0.03,0H6.27", "symbolSize": 400, "symbolStrokeWidth": 4.5, "symbolStrokeColor": "black", "labelFont": "Liberation Sans", "labelFontSize": 30, "labelColor": "black", "labelOffset": 59.7, "rowPadding": 22.4, "padding": 13.3, "strokeColor": "#808080", "fillColor": "white"}}
   }},
  {"data": {"name": "arrows"}, "transform": [{"filter": "datum.p === 'C'"}], "mark": {"type": "rule", "color": "black", "strokeWidth": 6.5}, "encoding": {"x": {"field": "t", "type": "quantitative"}, "y": {"field": "v1", "type": "quantitative"}, "y2": {"field": "v2"}}},
  {"data": {"name": "arrows"}, "transform": [{"filter": "datum.p === 'C'"}], "mark": {"type": "point", "shape": "M-1,-2.2L1,-2.2L0,0Z", "size": 420, "filled": true, "color": "black", "opacity": 1}, "encoding": {"x": {"field": "t", "type": "quantitative"}, "y": {"field": "tip", "type": "quantitative"}}},
  {"data": {"name": "labels"}, "transform": [{"filter": "datum.p === 'C' && datum.k === 'titleR'"}], "mark": {"type": "text", "font": "Liberation Sans", "fontWeight": "bold", "fontSize": 49, "align": "right", "baseline": "alphabetic", "color": "black"}, "encoding": {"x": {"field": "t", "type": "quantitative"}, "y": {"field": "v", "type": "quantitative"}, "text": {"field": "s"}}},
  {"data": {"name": "labels"}, "transform": [{"filter": "datum.p === 'C' && datum.k === 'titleI'"}], "mark": {"type": "text", "font": "Liberation Sans", "fontWeight": "bold", "fontStyle": "italic", "fontSize": 49, "align": "left", "baseline": "alphabetic", "color": "black"}, "encoding": {"x": {"field": "t", "type": "quantitative"}, "y": {"field": "v", "type": "quantitative"}, "text": {"field": "s"}}},
  {"data": {"name": "labels"}, "transform": [{"filter": "datum.p === 'C' && datum.k === 'titleL'"}], "mark": {"type": "text", "font": "Liberation Sans", "fontWeight": "bold", "fontSize": 49, "align": "left", "baseline": "alphabetic", "color": "black"}, "encoding": {"x": {"field": "t", "type": "quantitative"}, "y": {"field": "v", "type": "quantitative"}, "text": {"field": "s"}}},
  {"data": {"name": "labels"}, "transform": [{"filter": "datum.p === 'C' && datum.k === 'peak'"}], "mark": {"type": "text", "font": "Liberation Sans", "fontSize": 37, "align": "center", "baseline": "alphabetic", "color": "black"}, "encoding": {"x": {"field": "t", "type": "quantitative"}, "y": {"field": "v", "type": "quantitative"}, "text": {"field": "s"}}},
  {"data": {"name": "labels"}, "transform": [{"filter": "datum.p === 'C' && datum.k === 'region'"}], "mark": {"type": "text", "font": "Liberation Sans", "fontSize": 29, "align": "left", "baseline": "alphabetic", "lineBreak": "\n", "lineHeight": 36.5, "color": "black"}, "encoding": {"x": {"field": "t", "type": "quantitative"}, "y": {"field": "v", "type": "quantitative"}, "text": {"field": "s"}}},
  {"data": {"name": "labels"}, "transform": [{"filter": "datum.p === 'C' && datum.k === 'unitL'"}], "mark": {"type": "text", "font": "Liberation Sans", "fontWeight": "bold", "fontSize": 28, "align": "left", "baseline": "alphabetic", "color": "#7f7f7f"}, "encoding": {"x": {"field": "t", "type": "quantitative"}, "y": {"field": "v", "type": "quantitative"}, "text": {"field": "s"}}},
  {"data": {"name": "labels"}, "transform": [{"filter": "datum.p === 'C' && datum.k === 'unitR'"}], "mark": {"type": "text", "font": "Liberation Sans", "fontWeight": "bold", "fontSize": 28, "align": "right", "baseline": "alphabetic", "color": "#7f7f7f"}, "encoding": {"x": {"field": "t", "type": "quantitative"}, "y": {"field": "v", "type": "quantitative"}, "text": {"field": "s"}}}
 ]}
], "spacing": 96, "resolve": {"scale": {"strokeDash": "independent"}, "legend": {"strokeDash": "independent"}}}
]
}
